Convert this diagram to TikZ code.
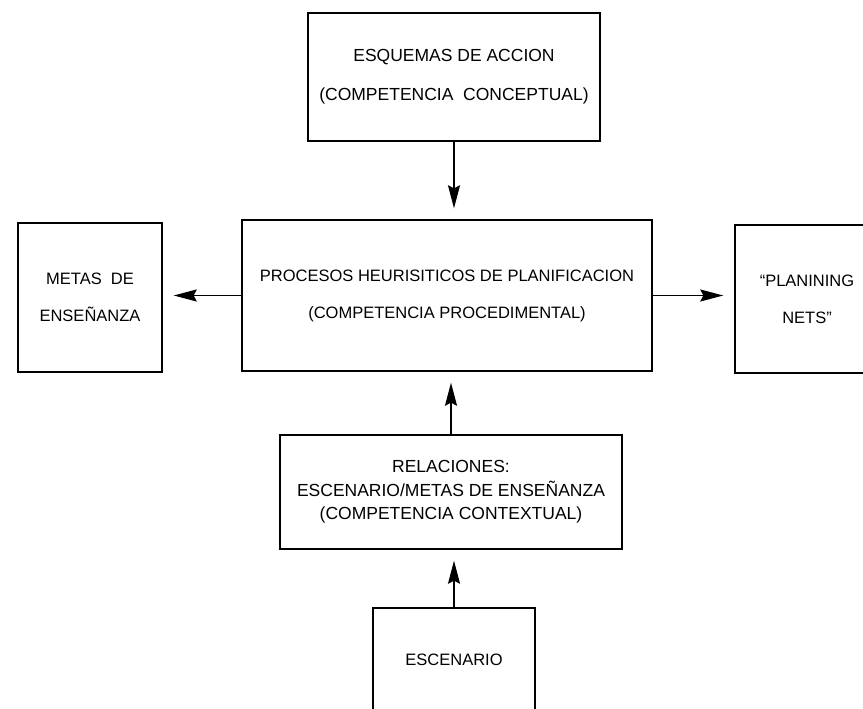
\documentclass[tikz,border=0pt]{standalone}
\usepackage{fontspec}
\setmainfont{Liberation Sans}
\usetikzlibrary{arrows.meta}
\begin{document}
\begin{tikzpicture}[x=1pt,y=-1pt,
  box/.style={draw, line width=1.4pt, inner sep=0pt, align=center},
  txt/.style={font=\fontsize{16.5}{37}\selectfont},
  txtbig/.style={font=\fontsize{17.5}{39}\selectfont},
  txttight/.style={font=\fontsize{17.5}{23.5}\selectfont},
  arr/.style={line width=1.4pt, -{Stealth[length=23pt,width=12pt,inset=3pt]}, shorten >=11pt}]
\useasboundingbox (0,0) rectangle (863,709);
\clip (0,0) rectangle (863,709);
\node[box, txtbig, minimum width=292pt, minimum height=128pt] (top) at (454,77)
  {ESQUEMAS DE ACCION\\(COMPETENCIA\ \ CONCEPTUAL)};
\node[box, txt, minimum width=410pt, minimum height=151pt] (mid) at (447,295.5)
  {PROCESOS HEURISITICOS DE PLANIFICACION\\(COMPETENCIA PROCEDIMENTAL)};
\node[box, txt, minimum width=144pt, minimum height=149pt] (left) at (90,297.5)
  {METAS\ \ DE\\ENSEÑANZA};
\node[box, txt, minimum width=144pt, minimum height=148pt] (right) at (807,299)
  {“PLANINING\\NETS”};
\node[box, txttight, minimum width=342pt, minimum height=114pt] (rel) at (451,492)
  {RELACIONES:\\ESCENARIO/METAS DE ENSEÑANZA\\(COMPETENCIA CONTEXTUAL)};
\node[box, txt, minimum width=162pt, minimum height=104pt] (esc) at (454,660)
  {ESCENARIO};
\draw[arr] (top.south) -- (top.south |- mid.north);
\draw[arr] (mid.west) -- (mid.west -| left.east);
\draw[arr] (mid.east) -- (mid.east -| right.west);
\draw[arr] (rel.north) -- (rel.north |- mid.south);
\draw[arr] (esc.north) -- (esc.north |- rel.south);
\end{tikzpicture}
\end{document}
